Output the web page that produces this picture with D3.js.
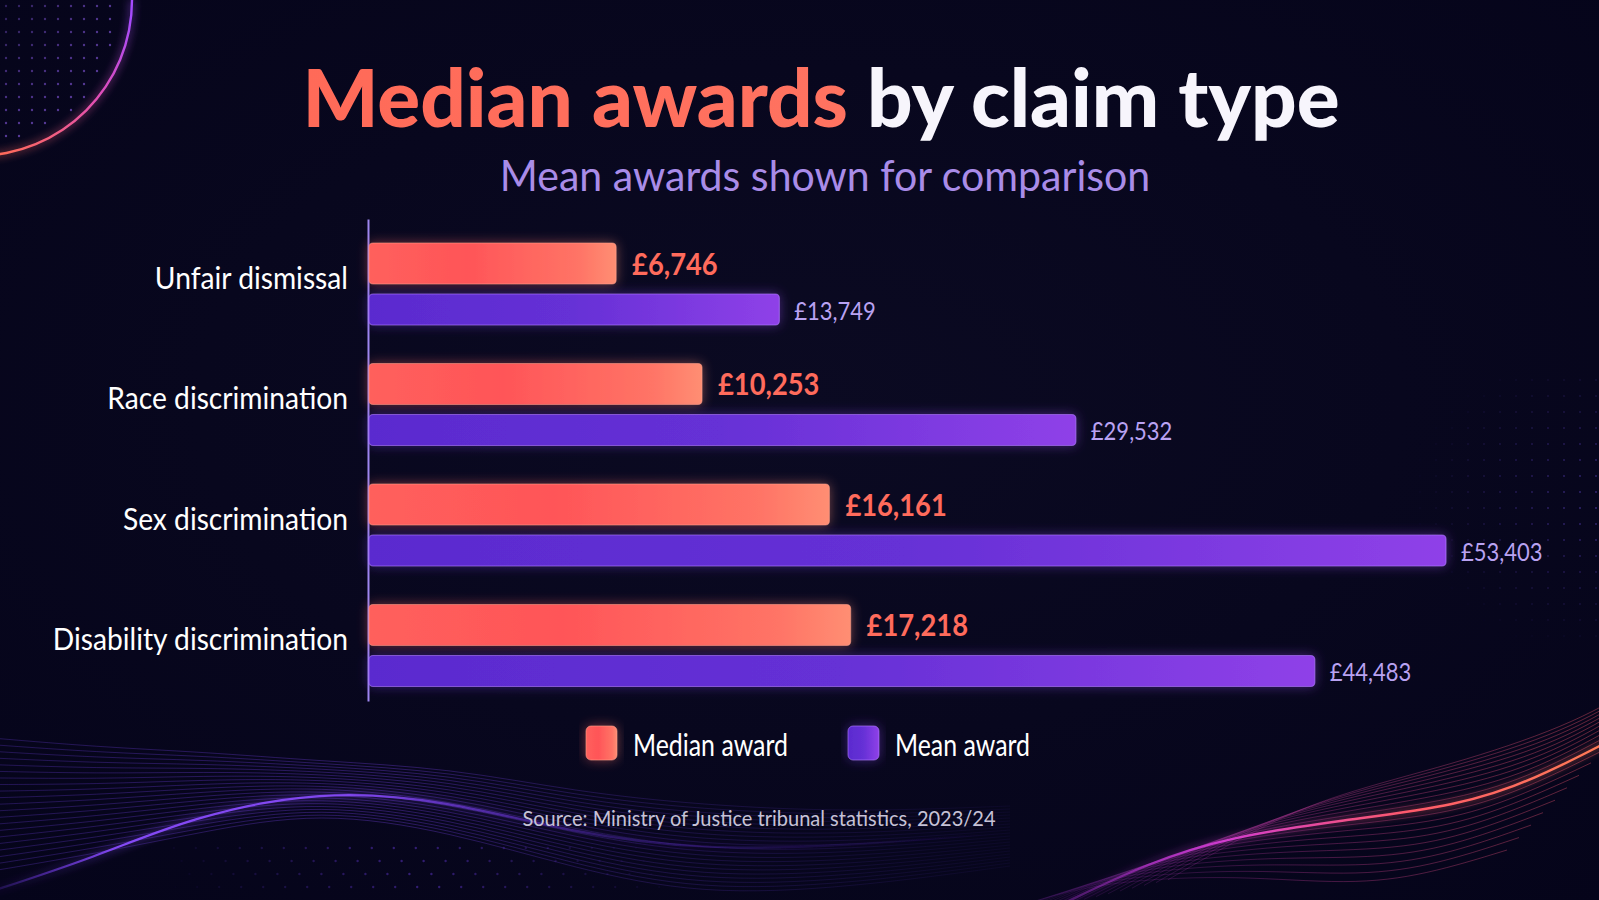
<!DOCTYPE html>
<html>
<head>
<meta charset="utf-8">
<title>Median awards by claim type</title>
<script src="https://cdn.jsdelivr.net/npm/d3@7/dist/d3.min.js"></script>
<style>
  html, body { margin: 0; padding: 0; background: #07061a; overflow: hidden; }
  svg { display: block; }
  text { font-family: Lato, "Open Sans", "Noto Sans", sans-serif; }
</style>
</head>
<body>
<div id="chart"></div>
<script>
// data
var categories = ["Unfair dismissal", "Race discrimination", "Sex discrimination", "Disability discrimination"];
var medianAwards = [6746, 10253, 16161, 17218];
var meanAwards = [13749, 29532, 53403, 44483];
var legendLabels = ["Median award", "Mean award"];
var titleParts = ["Median awards", " by claim type"];
var subtitleText = "Mean awards shown for comparison";
var sourceText = "Source: Ministry of Justice tribunal statistics, 2023/24";

var w = 1599, h = 900;
var narrow = 0.91; // the reference type is a bit more condensed than Lato

var svg = d3.select("#chart").append("svg")
    .attr("width", w)
    .attr("height", h);
var defs = svg.append("defs");

function gradient(id, stops, attrs) {
    var g = defs.append("linearGradient").attr("id", id);
    for (var k in attrs) g.attr(k, attrs[k]);
    stops.forEach(function(s) {
        g.append("stop")
            .attr("offset", s[0])
            .attr("stop-color", s[1])
            .attr("stop-opacity", s[2] == undefined ? 1 : s[2]);
    });
    return g;
}

function glow(id, dev, strength) {
    var f = defs.append("filter").attr("id", id)
        .attr("x", "-20%").attr("y", "-60%").attr("width", "140%").attr("height", "220%");
    f.append("feGaussianBlur").attr("in", "SourceGraphic").attr("stdDeviation", dev).attr("result", "b");
    f.append("feComponentTransfer").attr("in", "b").attr("result", "b2")
        .append("feFuncA").attr("type", "linear").attr("slope", strength);
    var m = f.append("feMerge");
    m.append("feMergeNode").attr("in", "b2");
    m.append("feMergeNode").attr("in", "SourceGraphic");
}

var bg = defs.append("radialGradient").attr("id", "bg")
    .attr("cx", "50%").attr("cy", "45%").attr("r", "75%");
bg.append("stop").attr("offset", "0").attr("stop-color", "#0b0a22");
bg.append("stop").attr("offset", "1").attr("stop-color", "#05041a");

gradient("medianFill", [[0, "#ff605c"], [0.4, "#ff5558"], [0.85, "#ff7466"], [1, "#ff8e73"]]);
gradient("meanFill", [[0, "#5a2bcf"], [0.5, "#6630d6"], [1, "#8f41e8"]]);
gradient("titleFill", [[0, "#ff6a58"], [1, "#ff7a68"]]);
gradient("arcStroke", [[0, "#a64cff"], [0.45, "#e04eb8"], [1, "#ff6a5a"]],
    {x1: 0.8, y1: 0, x2: 0.2, y2: 1});
gradient("waveLeft", [[0, "#7a3cff", 0.2], [0.12, "#8a4cff", 0.95], [0.35, "#8a4cff", 0.9], [0.6, "#6a34e0", 0.35], [1, "#5a2cd0", 0]],
    {gradientUnits: "userSpaceOnUse", x1: 0, y1: 0, x2: 1000, y2: 0});
gradient("thinLeft", [[0, "#6a3ce0", 0.7], [0.4, "#7a44f0", 0.8], [0.75, "#5a34c0", 0.5], [1, "#4a2cb0", 0.2]],
    {gradientUnits: "userSpaceOnUse", x1: 0, y1: 0, x2: 1000, y2: 0});
gradient("waveRight", [[0, "#b030e0", 0.3], [0.3, "#d03cd0", 1], [0.65, "#ff5a6a", 1], [1, "#ff7a55", 1]],
    {gradientUnits: "userSpaceOnUse", x1: 1060, y1: 0, x2: 1599, y2: 0});
gradient("thinRight", [[0, "#8a2cc8", 0.15], [0.5, "#c03a9a", 0.6], [1, "#ff5a6a", 0.7]],
    {gradientUnits: "userSpaceOnUse", x1: 1000, y1: 0, x2: 1599, y2: 0});

glow("barGlow", 6, 0.45);
glow("lineGlow", 4, 0.9);

svg.append("rect").attr("width", w).attr("height", h).attr("fill", "url(#bg)");

// ---- background decoration ----
var deco = svg.append("g").attr("class", "deco");

// dot grid inside the top-left circle
var arcC = {x: -24, y: 0, r: 156};
for (var gx = 6; gx < 135; gx += 13) {
    for (var gy = 6; gy < 160; gy += 13) {
        var d = Math.sqrt((gx - arcC.x) * (gx - arcC.x) + (gy - arcC.y) * (gy - arcC.y));
        if (d > arcC.r - 10) continue;
        deco.append("circle").attr("cx", gx).attr("cy", gy).attr("r", 1.2)
            .attr("fill", "#8a5ce6").attr("opacity", 0.25 + 0.4 * d / arcC.r);
    }
}
deco.append("path")
    .attr("d", d3.arc()({innerRadius: arcC.r - 1.2, outerRadius: arcC.r + 1.2, startAngle: Math.PI / 2, endAngle: Math.PI}))
    .attr("transform", "translate(" + arcC.x + "," + arcC.y + ")")
    .attr("fill", "url(#arcStroke)")
    .attr("filter", "url(#lineGlow)");

// faint dots on the right edge
for (var rx = 1420; rx < w; rx += 16) {
    for (var ry = 380; ry < 640; ry += 16) {
        var dd = Math.sqrt((rx - 1600) * (rx - 1600) / 1.5 + (ry - 500) * (ry - 500)) / 160;
        if (dd > 1) continue;
        deco.append("circle").attr("cx", rx).attr("cy", ry).attr("r", 1.1)
            .attr("fill", "#6a4cd8").attr("opacity", 0.45 * (1 - dd));
    }
}

var wave = d3.line().curve(d3.curveBasis);

// bottom-left bundle of lines
var leftMid = [[-20, 805], [100, 800], [200, 792], [320, 786], [450, 800], [575, 830], [700, 850], [850, 850], [1010, 836]];
var leftPts = [[-20, 895], [96, 857], [191, 817], [320, 790], [446, 800], [574, 833], [700, 850], [850, 846], [1010, 832]];
function leftSpread(x) {
    if (x < 320) return 68 - 43 * (x + 20) / 340;
    if (x < 700) return 25 + 20 * (x - 320) / 380;
    return 45 - 15 * (x - 700) / 310;
}
for (var k = -10; k <= 10; k++) {
    var pts = leftMid.map(function(p) { return [p[0], p[1] + k / 10 * leftSpread(p[0])]; });
    deco.append("path").attr("d", wave(pts))
        .attr("fill", "none")
        .attr("stroke", "url(#thinLeft)")
        .attr("stroke-width", 0.9)
        .attr("opacity", 0.45);
}
deco.append("path").attr("d", wave(leftPts))
    .attr("fill", "none")
    .attr("stroke", "url(#waveLeft)")
    .attr("stroke-width", 2.2)
    .attr("filter", "url(#lineGlow)");

// dots under the left wave
for (var bx = 150; bx < 660; bx += 22) {
    for (var by = 848; by < 900; by += 13) {
        deco.append("circle").attr("cx", bx + (by - 845) * 0.6).attr("cy", by).attr("r", 1.2)
            .attr("fill", "#7a44ff").attr("opacity", 0.4 * (1 - Math.abs(bx - 400) / 260));
    }
}

// bottom-right bundle
var rightPts = [[1060, 905], [1150, 862], [1229, 837], [1344, 820], [1458, 806], [1534, 780], [1615, 738]];
function rightSpread(x) {
    if (x < 1350) return 18 + 22 * (x - 1060) / 290;
    return 40 + 40 * (x - 1350) / 265;
}
for (var j = -9; j <= 9; j++) {
    if (j == 0) continue;
    var rp = rightPts.map(function(p) { return [p[0] - j * 12, p[1] + j / 9 * rightSpread(p[0]) * 1.4]; });
    deco.append("path").attr("d", wave(rp))
        .attr("fill", "none")
        .attr("stroke", "url(#thinRight)")
        .attr("stroke-width", 0.9)
        .attr("opacity", 0.6);
}
deco.append("path").attr("d", wave(rightPts))
    .attr("fill", "none")
    .attr("stroke", "url(#waveRight)")
    .attr("stroke-width", 2.4)
    .attr("filter", "url(#lineGlow)");

// ---- title ----
var title = svg.append("text")
    .attr("x", 821)
    .attr("y", 127)
    .attr("text-anchor", "middle")
    .style("font-size", "80px")
    .style("font-weight", 900);
title.append("tspan").attr("fill", "url(#titleFill)").text(titleParts[0]);
title.append("tspan").attr("fill", "#f7f5fc").text(titleParts[1]);

svg.append("text")
    .attr("transform", "translate(825,191) scale(0.955,1)")
    .attr("text-anchor", "middle")
    .style("font-size", "43px")
    .attr("fill", "#a98ce8")
    .text(subtitleText);

// ---- chart ----
var axisX = 368;
var y = d3.scaleBand()
    .domain(categories)
    .range([219, 701]);

var x = d3.scalePow()
    .exponent(0.71)
    .domain([0, d3.max(meanAwards)])
    .range([axisX, 1446]);

var fmt = function(v) { return "£" + d3.format(",")(v); };

var rows = categories.map(function(c, i) {
    return {cat: c, median: medianAwards[i], mean: meanAwards[i]};
});

var yAxis = svg.append("g")
    .attr("transform", "translate(" + axisX + ",0)")
    .call(d3.axisLeft(y).tickSize(0).tickSizeOuter(0).tickPadding(22));
yAxis.select(".domain")
    .attr("stroke", "#9d86f0")
    .attr("stroke-width", 2);
yAxis.selectAll(".tick text")
    .attr("fill", "#ffffff")
    .attr("dy", "0.3em")
    .style("font-family", "Lato, 'Open Sans', sans-serif")
    .style("font-size", "31px")
    .attr("transform", "scale(" + narrow + ",1)");

var group = svg.selectAll(".row")
    .data(rows)
    .enter()
    .append("g")
    .attr("class", "row")
    .attr("transform", function(d) { return "translate(0," + y(d.cat) + ")"; });

group.append("rect")
    .attr("class", "median")
    .attr("x", axisX + 1)
    .attr("y", 24)
    .attr("height", 41)
    .attr("width", function(d) { return x(d.median) - axisX - 1; })
    .attr("rx", 4)
    .attr("fill", "url(#medianFill)")
    .attr("stroke", "#ffa08a")
    .attr("stroke-opacity", 0.55)
    .attr("stroke-width", 1.2)
    .attr("filter", "url(#barGlow)");

group.append("rect")
    .attr("class", "mean")
    .attr("x", axisX + 1)
    .attr("y", 75)
    .attr("height", 31)
    .attr("width", function(d) { return x(d.mean) - axisX - 1; })
    .attr("rx", 4)
    .attr("fill", "url(#meanFill)")
    .attr("stroke", "#b07cff")
    .attr("stroke-opacity", 0.6)
    .attr("stroke-width", 1.2)
    .attr("filter", "url(#barGlow)");

group.append("text")
    .attr("transform", function(d) { return "translate(" + (x(d.median) + 16) + ",55.5) scale(" + narrow + ",1)"; })
    .attr("fill", "#ff6b5c")
    .style("font-size", "30px")
    .style("font-weight", 700)
    .text(function(d) { return fmt(d.median); });

group.append("text")
    .attr("transform", function(d) { return "translate(" + (x(d.mean) + 15) + ",100.5) scale(" + (narrow - 0.03) + ",1)"; })
    .attr("fill", "#b9a2f2")
    .style("font-size", "25px")
    .text(function(d) { return fmt(d.mean); });

// ---- legend ----
var legendX = [586, 848];
var legendFill = ["url(#medianFill)", "url(#meanFill)"];
var legendStroke = ["#ffa08a", "#b07cff"];
var legend = svg.selectAll(".legend")
    .data(legendLabels)
    .enter()
    .append("g")
    .attr("class", "legend")
    .attr("transform", function(d, i) { return "translate(" + legendX[i] + ",726)"; });
legend.append("rect")
    .attr("width", 31)
    .attr("height", 34)
    .attr("rx", 5)
    .attr("fill", function(d, i) { return legendFill[i]; })
    .attr("stroke", function(d, i) { return legendStroke[i]; })
    .attr("stroke-opacity", 0.6)
    .attr("filter", "url(#barGlow)");
legend.append("text")
    .attr("transform", "translate(47,30) scale(0.83,1)")
    .attr("fill", "#ffffff")
    .style("font-size", "30px")
    .text(function(d) { return d; });

// ---- source ----
svg.append("text")
    .attr("transform", "translate(759,826) scale(" + narrow + ",1)")
    .attr("text-anchor", "middle")
    .attr("fill", "#c6c2d6")
    .style("font-size", "22px")
    .text(sourceText);
</script>
</body>
</html>
